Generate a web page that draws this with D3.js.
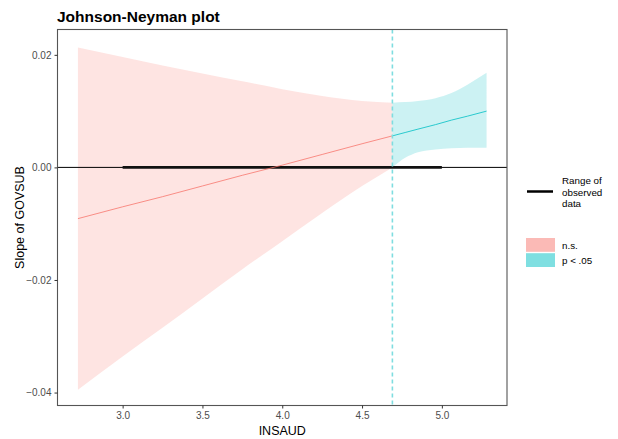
<!DOCTYPE html>
<html>
<head>
<meta charset="utf-8">
<script src="https://cdn.jsdelivr.net/npm/d3@7"></script>
<style>
  body { margin: 0; background: #fff; }
  svg { font-family: Arial, "Liberation Sans", sans-serif; }
</style>
</head>
<body>
<div id="chart"></div>
<script>
// values
var modX   = [2.72, 3.0, 3.25, 3.5, 3.75, 4.0, 4.25, 4.5, 4.69, 4.77, 4.85, 4.96, 5.06, 5.16, 5.28];
var slope  = [-0.0091, -0.0070, -0.0052, -0.0033, -0.0014, 0.0004, 0.0023, 0.0042, 0.0056, 0.0062, 0.0068, 0.0076, 0.0084, 0.0091, 0.0100];
var upper  = [0.0213, 0.0196, 0.0181, 0.0167, 0.0153, 0.0139, 0.0127, 0.0118, 0.0115, 0.0116, 0.0118, 0.0123, 0.0132, 0.0147, 0.0168];
var lower  = [-0.0395, -0.0336, -0.0285, -0.0233, -0.0181, -0.0131, -0.0081, -0.0033, 0.0000, 0.0017, 0.0027, 0.0032, 0.0034, 0.0035, 0.0035];
var jnPoint = 4.69;
var observedRange = [3.0, 5.0];
var xTicks = [3.0, 3.5, 4.0, 4.5, 5.0];
var yTicks = [0.02, 0.00, -0.02, -0.04];
var legendKeys = ["n.s.", "p < .05"];

var W = 618, H = 439;
var pLeft = 57.5, pRight = 507, pTop = 29.5, pBottom = 405.5;

var svg = d3.select("#chart").append("svg")
    .attr("width", W)
    .attr("height", H);

var x = d3.scaleLinear().domain([2.592, 5.408]).range([pLeft, pRight]);
var y = d3.scaleLinear().domain([-0.0423, 0.0245]).range([pBottom, pTop]);

var rows = modX.map(function(d, i) {
  return { x: d, est: slope[i], lo: lower[i], hi: upper[i] };
});
var ns = rows.filter(function(d) { return d.x <= jnPoint; });
var sig = rows.filter(function(d) { return d.x >= jnPoint; });

var area = d3.area()
    .x(function(d) { return x(d.x); })
    .y0(function(d) { return y(d.lo); })
    .y1(function(d) { return y(d.hi); })
    .curve(d3.curveMonotoneX);
var line = d3.line()
    .x(function(d) { return x(d.x); })
    .y(function(d) { return y(d.est); });

var panel = svg.append("g");

panel.append("path").datum(ns).attr("d", area)
    .attr("fill", "#F8766D").attr("fill-opacity", 0.2);
panel.append("path").datum(sig).attr("d", area)
    .attr("fill", "#00BFC4").attr("fill-opacity", 0.2);

// zero line
panel.append("line")
    .attr("x1", pLeft).attr("x2", pRight)
    .attr("y1", y(0)).attr("y2", y(0))
    .attr("stroke", "#000").attr("stroke-width", 1);

// range of observed data
panel.append("line")
    .attr("x1", x(observedRange[0])).attr("x2", x(observedRange[1]))
    .attr("y1", y(0)).attr("y2", y(0))
    .attr("stroke", "#111").attr("stroke-width", 2.8);

panel.append("path").datum(ns).attr("d", line)
    .attr("fill", "none").attr("stroke", "#F8766D").attr("stroke-width", 0.8);
panel.append("path").datum(sig).attr("d", line)
    .attr("fill", "none").attr("stroke", "#00BFC4").attr("stroke-width", 0.8);

// JN line
panel.append("line")
    .attr("x1", x(jnPoint)).attr("x2", x(jnPoint))
    .attr("y1", pTop).attr("y2", pBottom)
    .attr("stroke", "#7FDDE0").attr("stroke-width", 1.6)
    .attr("stroke-dasharray", "4,3");

// border
svg.append("rect")
    .attr("x", pLeft).attr("y", pTop)
    .attr("width", pRight - pLeft).attr("height", pBottom - pTop)
    .attr("fill", "none").attr("stroke", "#555").attr("stroke-width", 1.1);

// axes
var xAxis = d3.axisBottom(x).tickValues(xTicks).tickFormat(d3.format(".1f"))
    .tickSize(3).tickPadding(3);
var gx = svg.append("g").attr("transform", "translate(0," + pBottom + ")").call(xAxis);
var yAxis = d3.axisLeft(y).tickValues(yTicks).tickFormat(d3.format(".2f"))
    .tickSize(3).tickPadding(3);
var gy = svg.append("g").attr("transform", "translate(" + pLeft + ",0)").call(yAxis);

[gx, gy].forEach(function(g) {
  g.select(".domain").remove();
  g.selectAll(".tick line").attr("stroke", "#333");
  g.selectAll(".tick text").attr("fill", "#4D4D4D").style("font-size", "10px")
      .style("font-family", "Arial, 'Liberation Sans', sans-serif");
});

// titles
svg.append("text")
    .attr("x", 57).attr("y", 22)
    .style("font-size", "15.5px").style("font-weight", "bold")
    .text("Johnson-Neyman plot");

svg.append("text")
    .attr("x", (pLeft + pRight) / 2).attr("y", 435)
    .attr("text-anchor", "middle")
    .style("font-size", "12.5px")
    .text("INSAUD");

svg.append("text")
    .attr("transform", "translate(24," + (pTop + pBottom) / 2 + ") rotate(-90)")
    .attr("text-anchor", "middle")
    .style("font-size", "12.5px")
    .text("Slope of GOVSUB");

// legend
var leg = svg.append("g");
leg.append("line")
    .attr("x1", 527).attr("x2", 553)
    .attr("y1", 191.5).attr("y2", 191.5)
    .attr("stroke", "#000").attr("stroke-width", 2.5);
leg.append("text")
    .attr("x", 562).attr("y", 184)
    .style("font-size", "9.8px")
    .selectAll("tspan")
    .data(["Range of", "observed", "data"])
    .enter().append("tspan")
    .attr("x", 562)
    .attr("dy", function(d, i) { return i === 0 ? 0 : 11.5; })
    .text(function(d) { return d; });

var keyColors = ["#F8766D", "#00BFC4"];
leg.selectAll(".key")
    .data(legendKeys)
    .enter().append("rect")
    .attr("class", "key")
    .attr("x", 526)
    .attr("y", function(d, i) { return 238 + i * 15.2; })
    .attr("width", 29).attr("height", 13.8)
    .attr("fill", function(d, i) { return keyColors[i]; })
    .attr("fill-opacity", 0.5);
leg.selectAll(".keytext")
    .data(legendKeys)
    .enter().append("text")
    .attr("class", "keytext")
    .attr("x", 562)
    .attr("y", function(d, i) { return 248.5 + i * 15.2; })
    .style("font-size", "9.8px")
    .text(function(d) { return d; });
</script>
</body>
</html>
